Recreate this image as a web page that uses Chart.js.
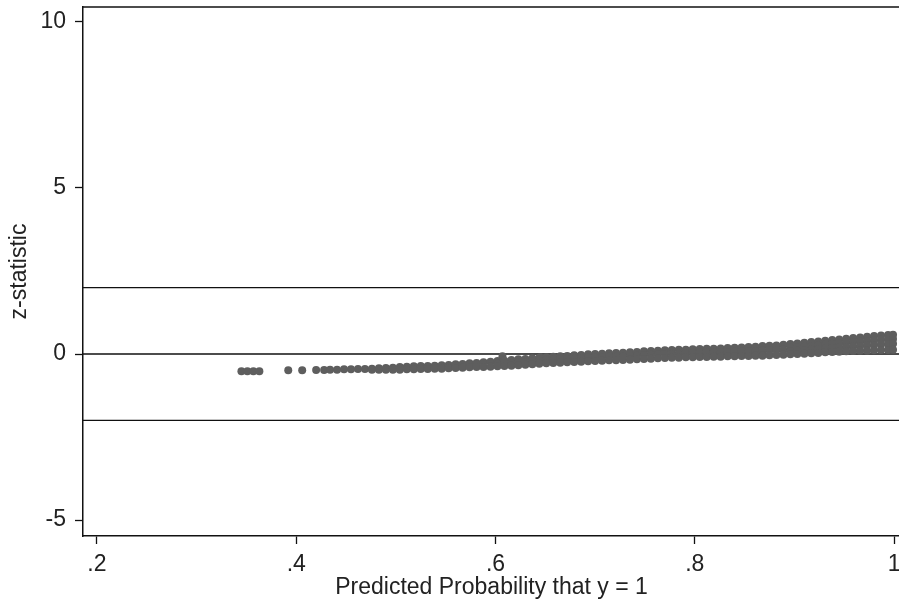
<!DOCTYPE html>
<html>
<head>
<meta charset="utf-8">
<script src="https://cdn.jsdelivr.net/npm/chart.js@4"></script>
<style>
  html, body { margin: 0; padding: 0; background: #fff; overflow: hidden; }
  body { width: 899px; height: 602px; }
  /* a little wider than the page so the label overhang of "1" falls outside */
  #wrap { width: 904px; height: 602px; }
</style>
</head>
<body>
<div id="wrap"><canvas id="zplot"></canvas></div>
<script>
// --- data: predicted probability (x) vs. z-statistic (y) ---
// scattered low-probability cases
const lowP = [0.345, 0.351, 0.357, 0.363, 0.392, 0.406, 0.420, 0.428, 0.434, 0.607, 0.645];
const lowZ = [-0.52, -0.52, -0.52, -0.52, -0.49, -0.49, -0.48, -0.48, -0.47, -0.07, -0.10];

// dense band: one column per probability, several z values each
const colP = [
  0.441, 0.448, 0.455, 0.462, 0.469, 0.476, 0.483, 0.490, 0.497,
  0.504, 0.511, 0.518, 0.525, 0.532, 0.539, 0.546, 0.553,
  0.560, 0.567, 0.574, 0.581, 0.588, 0.595,
  0.602, 0.609, 0.616, 0.623, 0.630, 0.637, 0.644, 0.651, 0.658, 0.665,
  0.672, 0.679, 0.686, 0.693, 0.700, 0.707, 0.714, 0.721,
  0.728, 0.735, 0.742, 0.749, 0.756, 0.763, 0.770, 0.777,
  0.784, 0.791, 0.798, 0.805, 0.812, 0.819, 0.826, 0.833,
  0.840, 0.847, 0.854, 0.861, 0.868, 0.875, 0.882,
  0.889, 0.896, 0.903, 0.910, 0.917, 0.924, 0.931,
  0.938, 0.945, 0.952, 0.959, 0.966, 0.973, 0.980, 0.987, 0.994, 0.999
];
const colZ = [
  [-0.47], [-0.46], [-0.46], [-0.45], [-0.45], [-0.44, -0.47], [-0.43, -0.47], [-0.42, -0.47], [-0.41, -0.47],
  [-0.39, -0.47], [-0.38, -0.46], [-0.37, -0.46], [-0.36, -0.45], [-0.36, -0.45], [-0.35, -0.44], [-0.34, -0.44], [-0.33, -0.43],
  [-0.31, -0.42], [-0.30, -0.41], [-0.28, -0.40], [-0.27, -0.39], [-0.25, -0.39], [-0.23, -0.38],
  [-0.21, -0.29, -0.37], [-0.20, -0.28, -0.36], [-0.18, -0.27, -0.35], [-0.16, -0.25, -0.34], [-0.15, -0.24, -0.32],
  [-0.13, -0.22, -0.31], [-0.12, -0.20, -0.29], [-0.10, -0.19, -0.28], [-0.08, -0.17, -0.27], [-0.07, -0.16, -0.26],
  [-0.06, -0.15, -0.25], [-0.04, -0.14, -0.24], [-0.03, -0.13, -0.23], [-0.01, -0.11, -0.22],
  [0.00, -0.10, -0.21], [0.01, -0.09, -0.20], [0.02, -0.08, -0.19], [0.03, -0.08, -0.19],
  [0.04, -0.07, -0.18], [0.05, -0.06, -0.17], [0.06, -0.05, -0.16], [0.08, -0.03, -0.15],
  [0.09, -0.02, -0.14], [0.10, -0.01, -0.13], [0.11, 0.00, -0.12], [0.12, 0.00, -0.11],
  [0.13, 0.01, -0.11], [0.13, 0.02, -0.10], [0.14, 0.03, -0.10], [0.15, 0.04, -0.09],
  [0.16, 0.04, -0.09], [0.16, 0.05, -0.08], [0.17, 0.05, -0.08], [0.18, 0.06, -0.07],
  [0.19, 0.07, -0.07], [0.20, 0.08, -0.06], [0.21, 0.08, -0.06], [0.22, 0.09, -0.05],
  [0.24, 0.10, -0.05], [0.25, 0.11, -0.04], [0.26, 0.12, -0.03],
  [0.28, 0.13, -0.02], [0.30, 0.19, 0.08, -0.01], [0.32, 0.21, 0.10, 0.00], [0.34, 0.23, 0.12, 0.01],
  [0.36, 0.24, 0.13, 0.02], [0.38, 0.26, 0.15, 0.03], [0.40, 0.28, 0.16, 0.05],
  [0.42, 0.30, 0.18, 0.06], [0.44, 0.32, 0.19, 0.07], [0.46, 0.34, 0.21, 0.08], [0.48, 0.36, 0.23, 0.09],
  [0.50, 0.37, 0.24, 0.10], [0.52, 0.39, 0.26, 0.10], [0.54, 0.41, 0.27, 0.11], [0.56, 0.43, 0.29, 0.12],
  [0.57, 0.44, 0.30, 0.12], [0.58, 0.45, 0.31, 0.13]
];

// reference lines at +-2 and 0
const refLines = [2, 0, -2];

// axes
const xTicks = [0.2, 0.4, 0.6, 0.8, 1];
const xTickLabels = [".2", ".4", ".6", ".8", "1"];
const yTicks = [-5, 0, 5, 10];
const yTickLabels = ["-5", "0", "5", "10"];
const xRange = [0.186, 1.006];
const yRange = [-5.48, 10.45];

// --- build datasets ---
const pts = [];
lowP.forEach((p, i) => pts.push({ x: p, y: lowZ[i] }));
colP.forEach((p, i) => colZ[i].forEach((z) => pts.push({ x: p, y: z })));

const lineSets = refLines.map((v) => ({
  type: "line",
  data: [{ x: xRange[0], y: v }, { x: xRange[1], y: v }],
  borderColor: "#111",
  borderWidth: 1.3,
  pointRadius: 0,
  order: 2,
}));

const FONT = { family: "'Liberation Sans', Arial, sans-serif", size: 23 };

// plot region frame (top edge; left/bottom come from the axes)
const frame = {
  id: "frame",
  afterDraw(chart) {
    const { ctx, chartArea: a } = chart;
    ctx.save();
    ctx.strokeStyle = "#111";
    ctx.lineWidth = 1.5;
    ctx.beginPath();
    ctx.moveTo(a.left, a.top);
    ctx.lineTo(a.right, a.top);
    ctx.stroke();
    ctx.restore();
  },
};

// keep tick labels from pushing the plot region inwards
const noEdgePad = (s) => {
  s.paddingTop = 0;
  s.paddingBottom = 0;
  s.paddingLeft = 0;
  s.paddingRight = 0;
};

new Chart(document.getElementById("zplot"), {
  type: "scatter",
  data: {
    datasets: [
      {
        data: pts,
        backgroundColor: "#5e5e5e",
        borderColor: "#5e5e5e",
        borderWidth: 0,
        pointRadius: 4,
        order: 1,
      },
      ...lineSets,
    ],
  },
  options: {
    responsive: true,
    maintainAspectRatio: false,
    animation: false,
    layout: { padding: { top: 7, right: 0, left: 0, bottom: 0 } },
    plugins: { legend: { display: false }, tooltip: { enabled: false } },
    scales: {
      x: {
        type: "linear",
        min: xRange[0],
        max: xRange[1],
        afterBuildTicks: (s) => { s.ticks = xTicks.map((v) => ({ value: v })); },
        afterFit: (s) => { s.height = 66; noEdgePad(s); },
        ticks: {
          color: "#222",
          font: FONT,
          padding: 7,
          maxRotation: 0,
          callback: (v) => xTickLabels[xTicks.indexOf(v)],
        },
        grid: { drawOnChartArea: false, color: "#111", tickLength: 8, tickWidth: 1.3 },
        border: { color: "#111", width: 1.5 },
        title: {
          display: true,
          text: "Predicted Probability that y = 1",
          color: "#222",
          font: FONT,
          padding: { top: 0, bottom: 1 },
        },
      },
      y: {
        type: "linear",
        min: yRange[0],
        max: yRange[1],
        afterBuildTicks: (s) => { s.ticks = yTicks.map((v) => ({ value: v })); },
        afterFit: (s) => { s.width = 83; noEdgePad(s); },
        ticks: {
          color: "#222",
          font: FONT,
          padding: 9,
          callback: (v) => yTickLabels[yTicks.indexOf(v)],
        },
        grid: { drawOnChartArea: false, color: "#111", tickLength: 8, tickWidth: 1.3 },
        border: { color: "#111", width: 1.5 },
        title: {
          display: true,
          text: "z-statistic",
          color: "#222",
          font: FONT,
          padding: { top: 6, bottom: 0 },
        },
      },
    },
  },
  plugins: [frame],
});
</script>
</body>
</html>
